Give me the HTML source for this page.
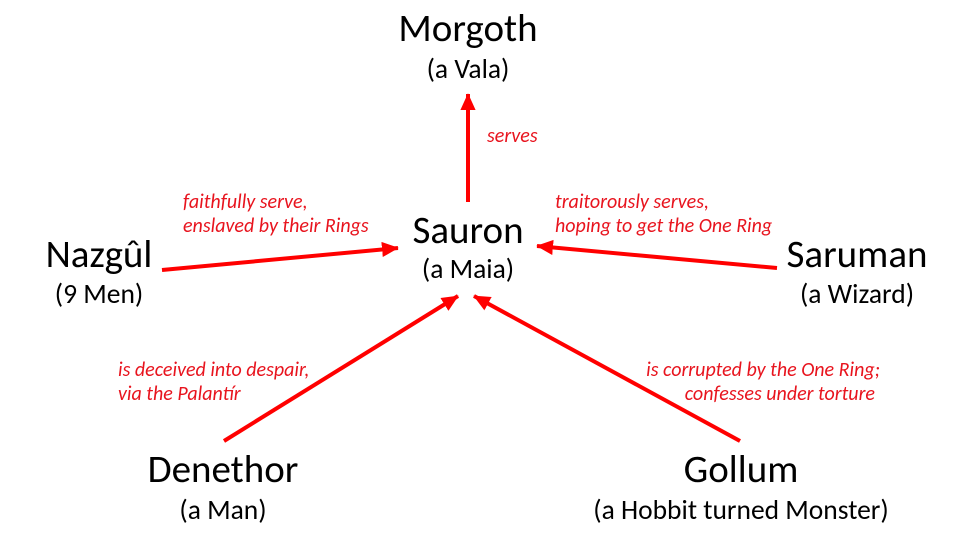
<!DOCTYPE html>
<html><head><meta charset="utf-8"><style>
html,body{margin:0;padding:0;background:#fff;}
svg{display:block;}
.t{font-family:"Carlito","Liberation Sans",sans-serif;font-size:39px;fill:#000;text-anchor:middle;}
.s{font-family:"Carlito","Liberation Sans",sans-serif;font-size:27.5px;fill:#000;text-anchor:middle;}
.l{font-family:"Carlito","Liberation Sans",sans-serif;font-size:20px;font-style:italic;fill:#e8141e;}
</style></head><body>
<svg width="960" height="540" viewBox="0 0 960 540" xmlns="http://www.w3.org/2000/svg">
<defs><marker id="a" markerWidth="5" markerHeight="5" refX="4" refY="2.5" orient="auto" markerUnits="strokeWidth">
<path d="M0,0.6 L4.2,2.5 L0,4.4 Z" fill="#f00"/></marker></defs>
<g stroke="#f00" stroke-width="4" fill="none" marker-end="url(#a)">
<line x1="468" y1="202" x2="468" y2="94"/>
<line x1="162" y1="270" x2="398" y2="248"/>
<line x1="777" y1="268" x2="537" y2="246"/>
<line x1="224" y1="441" x2="458" y2="296"/>
<line x1="740" y1="441" x2="474" y2="296"/>
</g>
<text class="t" x="468" y="41">Morgoth</text>
<text class="s" x="468" y="78">(a Vala)</text>
<text class="t" x="468" y="243">Sauron</text>
<text class="s" x="468" y="278">(a Maia)</text>
<text class="t" x="99" y="267">Nazgûl</text>
<text class="s" x="99" y="303">(9 Men)</text>
<text class="t" x="857" y="267">Saruman</text>
<text class="s" x="857" y="303">(a Wizard)</text>
<text class="t" x="223" y="482">Denethor</text>
<text class="s" x="223" y="519">(a Man)</text>
<text class="t" x="741" y="482">Gollum</text>
<text class="s" x="741" y="519">(a Hobbit turned Monster)</text>
<text class="l" x="487" y="142">serves</text>
<text class="l" x="183" y="208">faithfully serve,</text>
<text class="l" x="183" y="232">enslaved by their Rings</text>
<text class="l" x="555" y="208">traitorously serves,</text>
<text class="l" x="555" y="232">hoping to get the One Ring</text>
<text class="l" x="118" y="376">is deceived into despair,</text>
<text class="l" x="118" y="400">via the Palantír</text>
<text class="l" x="880" y="376" text-anchor="end">is corrupted by the One Ring;</text>
<text class="l" x="875" y="400" text-anchor="end">confesses under torture</text>
</svg>
</body></html>
